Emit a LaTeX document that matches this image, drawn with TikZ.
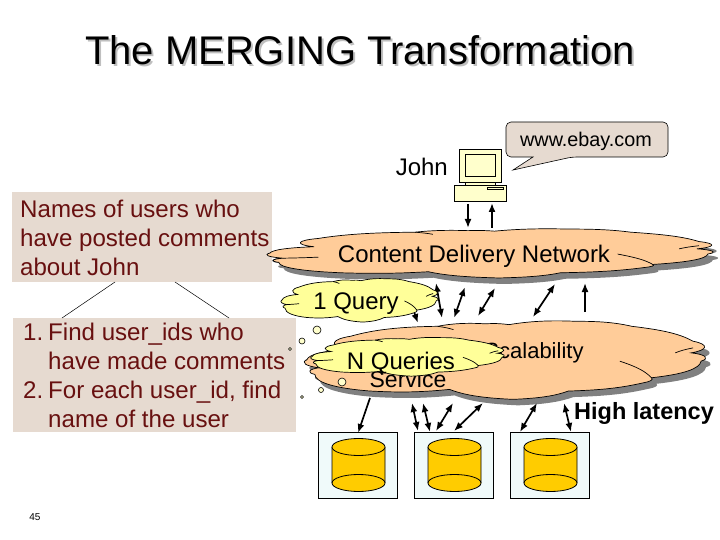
\documentclass[tikz,border=0pt]{standalone}
\usepackage{fontspec}
\setmainfont{Liberation Sans}
\usetikzlibrary{arrows.meta}
\definecolor{qpeach}{RGB}{255,204,153}
\definecolor{qyellow}{RGB}{255,255,153}
\definecolor{qpale}{RGB}{255,255,204}
\definecolor{qtan}{RGB}{230,218,208}
\definecolor{qred}{RGB}{104,16,16}
\definecolor{qwater}{RGB}{240,250,250}
\definecolor{qgold}{RGB}{255,204,0}
\newcommand{\cloudshape}{(0,.50) to[bend left=35] (.10,.38) to[bend left=50] (.11,.22)
 to[bend left=25] (.33,.10) to[bend left=30] (.45,.07) to[bend left=25] (.51,.08)
 to[bend left=25] (.68,.04) to[bend left=25] (.82,.10) to[bend left=20] (.975,.28)
 to[bend left=50] (.97,.42) to[bend left=50] (.995,.52) to[bend left=30] (.87,.72)
 to[bend left=30] (.85,.78) to[bend left=20] (.66,.88) to[bend left=25] (.52,.98)
 to[bend left=25] (.36,.86) to[bend left=20] (.16,.88) to[bend left=35] (.02,.68)
 to[bend left=50] (.03,.60) to[bend left=40] cycle}
% x, y, width, height, fill
\newcommand{\cloudat}[5]{
 \begin{scope}[shift={(#1,#2)},xscale=#3,yscale=#4]
 \draw[fill=#5,line width=0.7pt] \cloudshape;
 \draw[line width=0.7pt] (.03,.60) to[bend right=5] (.11,.58);
 \draw[line width=0.7pt] (.79,.52) to[bend left=10] (.87,.72);
 \draw[line width=0.7pt] (.93,.42) to[bend left=10] (.975,.36);
 \draw[line width=0.7pt] (.33,.10) to[bend left=10] (.37,.14);
 \end{scope}}
\newcommand{\cloudshadow}[4]{
 \fill[gray,shift={(#1+5,#2+6)},xscale=#3,yscale=#4] \cloudshape;}
\begin{document}
\begin{tikzpicture}[x=1pt,y=-1pt,
 bodytext/.style={font=\fontsize{24}{29}\selectfont,inner sep=0pt},
 redbox/.style={font=\fontsize{24.1}{29}\selectfont,text=qred,align=left,anchor=north west,inner sep=0pt},
 twoway/.style={{Latex[length=9pt,width=7pt]}-{Latex[length=9pt,width=7pt]},line width=1.7pt},
 oneway/.style={-{Latex[length=9pt,width=7pt]},line width=1.7pt},
 bubble/.style={draw,fill=qpale,line width=0.6pt},
 dbbox/.style={draw,fill=qwater,line width=0.7pt}]
\useasboundingbox (0,0) rectangle (720,540);

\node[font=\fontsize{40}{44}\selectfont,text=black!25] (titleshadow) at (362,52) {The MERGING Transformation};
\node[font=\fontsize{40}{44}\selectfont] (title) at (360,50) {The MERGING Transformation};

%left boxes
\fill[qtan] (12,192) rectangle (272,282);
\node[redbox] (goal) at (20,200) {Names of users who\\have posted comments\\about John};
\fill[qtan] (13,318) rectangle (296,432);
\node[redbox] (steps) at (23,323) {\makebox[25pt][l]{1.}Find user\_ids who\\\hspace*{25pt}have made comments\\\makebox[25pt][l]{2.}For each user\_id, find\\\hspace*{25pt}name of the user};
\coordinate (goalL) at (115,282);
\coordinate (goalR) at (175,282);
\coordinate (stepsL) at (62,318);
\coordinate (stepsR) at (229,318);
\draw[line width=0.5pt] (goalL) -- (stepsL);
\draw[line width=0.5pt] (goalR) -- (stepsR);
\node[font=\fontsize{10}{12}\selectfont] (pagenum) at (35,517) {45};

%computer
\node[bodytext,anchor=east] (john) at (448,167) {John};
\draw[fill=qpale,line width=0.7pt] (459,149) rectangle (501,182);
\draw[fill=qpale,line width=0.7pt] (465,154) rectangle (495,176);
\draw[fill=qpale,line width=0.7pt] (465,182) rectangle (495,185);
\draw[fill=qpale,line width=0.7pt] (454,185) rectangle (506,201);
\draw[line width=0.7pt] (487,187) rectangle (503,189);

%callout
\draw[fill=qtan,line width=0.6pt,rounded corners=5pt] (506,122) -- (668,122) -- (668,157) -- (572,157)
 [sharp corners] -- (513,170) -- (533,157) [rounded corners=5pt] -- (506,157) -- cycle;
\node[font=\fontsize{19.8}{24}\selectfont] (url) at (586,141) {www.ebay.com};

%databases
\foreach \i/\x in {1/318,2/414,3/510}{
 \draw[dbbox] (\x,432) rectangle +(79,66);
 \draw[fill=qgold,line width=0.8pt] (\x+14,447) -- (\x+14,483) arc(180:360:26.5 and -8.5) -- (\x+67,447);
 \draw[fill=qgold,line width=0.8pt] (\x+40.5,447) ellipse (26.5 and 8.5);
 \draw[line width=0.8pt] (\x+14,483) arc(180:360:26.5 and 8.5);
}

%clouds
\cloudshadow{270}{227}{440}{52}
\cloudat{270}{227}{440}{52}{qpeach}
\node[bodytext] (cdn) at (474,256) {Content Delivery Network};
\cloudshadow{307}{318}{396}{83}
\cloudat{307}{318}{396}{83}{qpeach}
\node[font=\fontsize{22}{26}\selectfont] (scal) at (534,353) {Scalability};
\node[font=\fontsize{23}{26}\selectfont] (service) at (408,379) {Service};

%arrows
\foreach \i/\xa/\ya/\xb/\yb in {1/436/283/442/318,2/465/287/454/318,3/495/288/478/316,4/555/284/533/317,
 5/412/403/418/431,6/423/403/430/432,7/453/403/436/431,8/483/403/454/431,9/537/403/520/432,10/564/403/571/432}{
 \coordinate (up\i) at (\xa,\ya);
 \coordinate (dn\i) at (\xb,\yb);
 \draw[twoway] (up\i) -- (dn\i);
}
\coordinate (pcDown) at (468,204);
\coordinate (cdnDown) at (468,228);
\coordinate (cdnUp) at (492,228);
\coordinate (pcUp) at (492,203);
\coordinate (qTop) at (408,295);
\coordinate (qEnd) at (418,323);
\coordinate (fBot) at (585,312);
\coordinate (fTop) at (585,283);
\coordinate (gTop) at (370,398);
\coordinate (gEnd) at (358,433);
\draw[oneway] (pcDown) -- (cdnDown);
\draw[oneway] (cdnUp) -- (pcUp);
\draw[oneway] (qTop) -- (qEnd);
\draw[oneway] (fBot) -- (fTop);
\draw[oneway] (gTop) -- (gEnd);

%query clouds
\cloudat{282}{277}{155}{46}{qyellow}
\node[bodytext] (one) at (356,304) {1 Query};
\cloudat{312}{336}{191}{41}{qyellow}
\node[bodytext] (many) at (401,363) {N Queries};
\foreach \x/\y/\r in {317/330/4,302/341/3,290/349/1.5,342/382/4,321/390/2.5,302/397/1.5}{
 \draw[bubble] (\x,\y) circle (\r);
}

\node[font=\bfseries\fontsize{23.5}{28}\selectfont] (late) at (644,413) {High latency};
\end{tikzpicture}
\end{document}
